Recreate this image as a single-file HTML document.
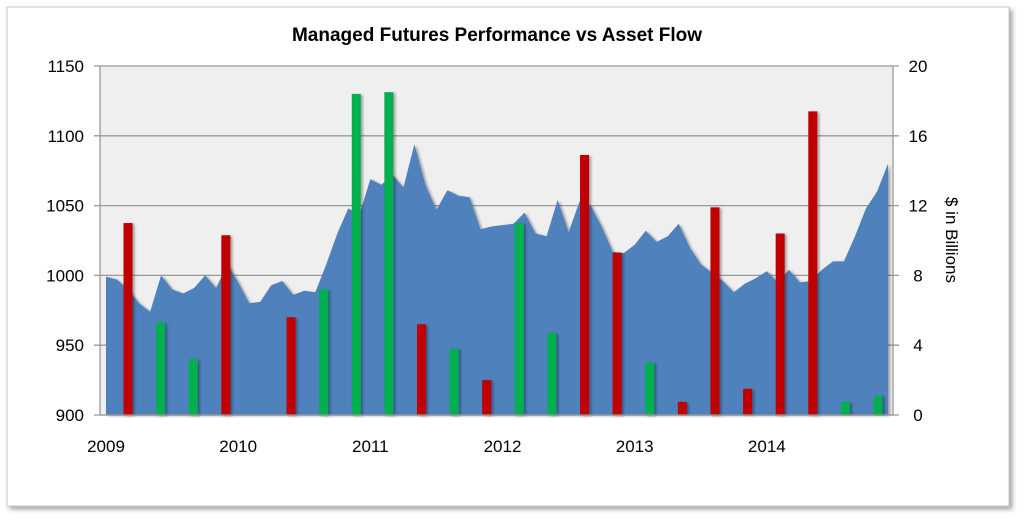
<!DOCTYPE html>
<html><head><meta charset="utf-8"><style>
html,body{margin:0;padding:0;background:#fff;}
svg{display:block;font-family:"Liberation Sans",Calibri,sans-serif;}
</style></head><body>
<svg id="chart" width="1024" height="521" viewBox="0 0 1024 521">
<defs>
<filter id="sh" x="-5%" y="-5%" width="115%" height="115%"><feDropShadow dx="3" dy="3" stdDeviation="2.5" flood-color="#000" flood-opacity="0.35"/></filter>
<filter id="bsh" x="-50%" y="-5%" width="250%" height="110%"><feDropShadow dx="2" dy="1" stdDeviation="1.2" flood-color="#000" flood-opacity="0.35"/></filter>
</defs>
<rect x="7" y="7" width="1002" height="499" fill="#fff" stroke="#c8c8c8" stroke-width="1" filter="url(#sh)"/>
<text x="497" y="41" text-anchor="middle" font-size="19" font-weight="bold" fill="#000">Managed Futures Performance vs Asset Flow</text>
<rect x="100" y="66" width="793" height="349" fill="#efefef"/>
<g id="grid"></g>
<g id="area"></g>
<g id="bars"></g>
<g id="axes"></g>
<text transform="translate(946,240) rotate(90)" text-anchor="middle" font-size="17" fill="#000">$ in Billions</text>
</svg>
<script>
const leftTicks = [900, 950, 1000, 1050, 1100, 1150];
const rightTicks = [0, 4, 8, 12, 16, 20];
const yearLabels = ["2009", "2010", "2011", "2012", "2013", "2014"];
const performance = [999,997,990,980,974,1000,990,987,991,1000,991,1008,
995,980,981,993,996,986,989,988,1008,1030,1048,1043,
1069,1065,1072,1063,1094,1065,1047,1061,1057,1056,1033,1035,
1036,1037,1045,1030,1028,1054,1031,1053,1050,1035,1017,1016,
1022,1032,1024,1028,1037,1020,1008,1002,996,988,994,998,
1003,995,1004,995,996,1004,1010,1010,1028,1048,1060,1080];
const flows = [-11.0,5.3,3.2,-10.3,0,-5.6,7.2,18.4,18.5,-5.2,3.8,-2.0,
11.0,4.7,-14.9,-9.3,3.0,-0.75,-11.9,-1.5,-10.4,-17.4,0.75,1.1];

const NS = "http://www.w3.org/2000/svg";
const X0 = 100, X1 = 893, Y0 = 415, Y1 = 66;
const yL = v => Y0 - (v - 900) / 250 * (Y0 - Y1);
const yR = v => Y0 - v / 20 * (Y0 - Y1);
const xM = i => 106 + i * (888 - 106) / (performance.length - 1);
const xQ = q => 128 + q * (878 - 128) / (flows.length - 1);
function mk(tag, attrs, parent){const e=document.createElementNS(NS,tag);for(const k in attrs)e.setAttribute(k,attrs[k]);parent.appendChild(e);return e;}
const grid=document.getElementById('grid'), area=document.getElementById('area'), bars=document.getElementById('bars'), axes=document.getElementById('axes');

leftTicks.forEach((t,i)=>{
  const y=yL(t);
  const l=mk('line',{x1:X0-6,x2:X1+6,y1:y,y2:y,stroke:'#999','stroke-width':1.3},grid);
  
  
  const tx=mk('text',{x:84,y:y+6,'text-anchor':'end','font-size':17,fill:'#000'},axes);
  tx.textContent=t;
  
  
});
rightTicks.forEach(t=>{
  const y=yR(t);
  const tx=mk('text',{x:918,y:y+6,'text-anchor':'middle','font-size':17,fill:'#000'},axes);
  tx.textContent=t;
  
  
});
yearLabels.forEach((yr,i)=>{
  const tx=mk('text',{x:xM(i*12),y:452,'text-anchor':'middle','font-size':17,fill:'#000'},axes);
  tx.textContent=yr;
  
  
});
let d='M'+xM(0)+','+Y0;
performance.forEach((v,i)=>{d+=' L'+xM(i).toFixed(1)+','+yL(v).toFixed(1);});
d+=' L'+xM(performance.length-1)+','+Y0+' Z';
const p=mk('path',{d:d,fill:'#4f81bd',filter:'url(#bsh)'},area);


flows.forEach((v,q)=>{
  if(v===0)return;
  const h=Math.abs(v);
  const r=mk('rect',{x:xQ(q)-4.5,y:yR(h),width:9,height:Y0-yR(h),fill:v<0?'#c00000':'#00b050',filter:'url(#bsh)'},bars);
  
  
});
const a1=mk('line',{x1:X0,x2:X0,y1:Y1,y2:Y0,stroke:'#999','stroke-width':1.3},axes);


const a2=mk('line',{x1:X1,x2:X1,y1:Y1,y2:Y0,stroke:'#999','stroke-width':1.3},axes);


const a3=mk('line',{x1:X0,x2:X1,y1:Y0,y2:Y0,stroke:'#999','stroke-width':1.3},axes);


</script>
</body></html>
